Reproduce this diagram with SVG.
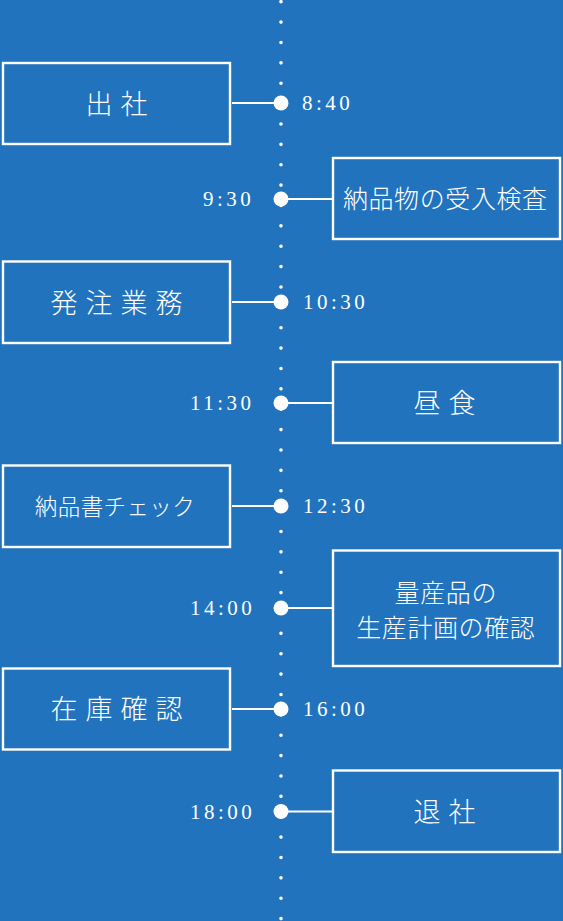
<svg xmlns="http://www.w3.org/2000/svg" width="563" height="921" viewBox="0 0 563 921">
<style>
.box{fill:none;stroke:#fff;stroke-width:2.4}
.lbl{fill:#fff;font-family:"Noto Sans CJK JP","Noto Sans CJK SC",sans-serif;font-weight:300;text-anchor:middle}
.big{font-size:27px;letter-spacing:8px}
.mid{font-size:25px;letter-spacing:0.6px}
.sm{font-size:22.5px;letter-spacing:0.4px}
.time{fill:#fff;font-family:"Liberation Serif","Times New Roman",serif;font-size:21px;letter-spacing:3.5px}
.conn{stroke:#fff;stroke-width:2.2;fill:none}
.dot{fill:#fff}
</style>
<rect width="563" height="921" fill="#2273bd"/>
<g id="timeline">
<path d="M281 1.7V921" stroke="#fff" stroke-width="3.6" stroke-linecap="round" stroke-dasharray="0 20.376" fill="none"/>
</g>
<g id="connectors">
<path class="conn" d="M232 103H281"/>
<path class="conn" d="M281 199H332"/>
<path class="conn" d="M232 302H281"/>
<path class="conn" d="M281 403H332"/>
<path class="conn" d="M232 506H281"/>
<path class="conn" d="M281 608H332"/>
<path class="conn" d="M232 709H281"/>
<path class="conn" d="M281 811.5H332"/>
<circle class="dot" cx="281" cy="103" r="7.5"/>
<circle class="dot" cx="281" cy="199" r="7.5"/>
<circle class="dot" cx="281" cy="302" r="7.5"/>
<circle class="dot" cx="281" cy="403" r="7.5"/>
<circle class="dot" cx="281" cy="506" r="7.5"/>
<circle class="dot" cx="281" cy="608" r="7.5"/>
<circle class="dot" cx="281" cy="709" r="7.5"/>
<circle class="dot" cx="281" cy="811.5" r="7.5"/>
</g>
<g id="n1">
<rect class="box" x="3" y="63" width="227" height="81"/>
<text class="lbl big" x="120.5" y="113.5">出社</text>
<text class="time" x="302" y="110">8:40</text>
</g>
<g id="n2">
<rect class="box" x="333" y="158" width="227" height="81"/>
<text class="lbl mid" x="445.3" y="208">納品物の受入検査</text>
<text class="time" x="203" y="206">9:30</text>
</g>
<g id="n3">
<rect class="box" x="3" y="261.5" width="227" height="81.5"/>
<text class="lbl big" x="120.5" y="312.5">発注業務</text>
<text class="time" x="303" y="309">10:30</text>
</g>
<g id="n4">
<rect class="box" x="333" y="362" width="227" height="81"/>
<text class="lbl big" x="448.5" y="412.5">昼食</text>
<text class="time" x="190" y="410">11:30</text>
</g>
<g id="n5">
<rect class="box" x="3" y="465.5" width="227" height="81.5"/>
<text class="lbl sm" x="115" y="514.5">納品書チェック</text>
<text class="time" x="303" y="513">12:30</text>
</g>
<g id="n6">
<rect class="box" x="333" y="550.5" width="227" height="115.5"/>
<text class="lbl mid" x="445.8" y="602">量産品の</text>
<text class="lbl mid" x="445.8" y="637">生産計画の確認</text>
<text class="time" x="190" y="615">14:00</text>
</g>
<g id="n7">
<rect class="box" x="3" y="668.5" width="227" height="81"/>
<text class="lbl big" x="120.5" y="719">在庫確認</text>
<text class="time" x="303" y="716">16:00</text>
</g>
<g id="n8">
<rect class="box" x="333" y="770.5" width="227" height="81.5"/>
<text class="lbl big" x="448.5" y="821.5">退社</text>
<text class="time" x="190" y="818.5">18:00</text>
</g>
</svg>
